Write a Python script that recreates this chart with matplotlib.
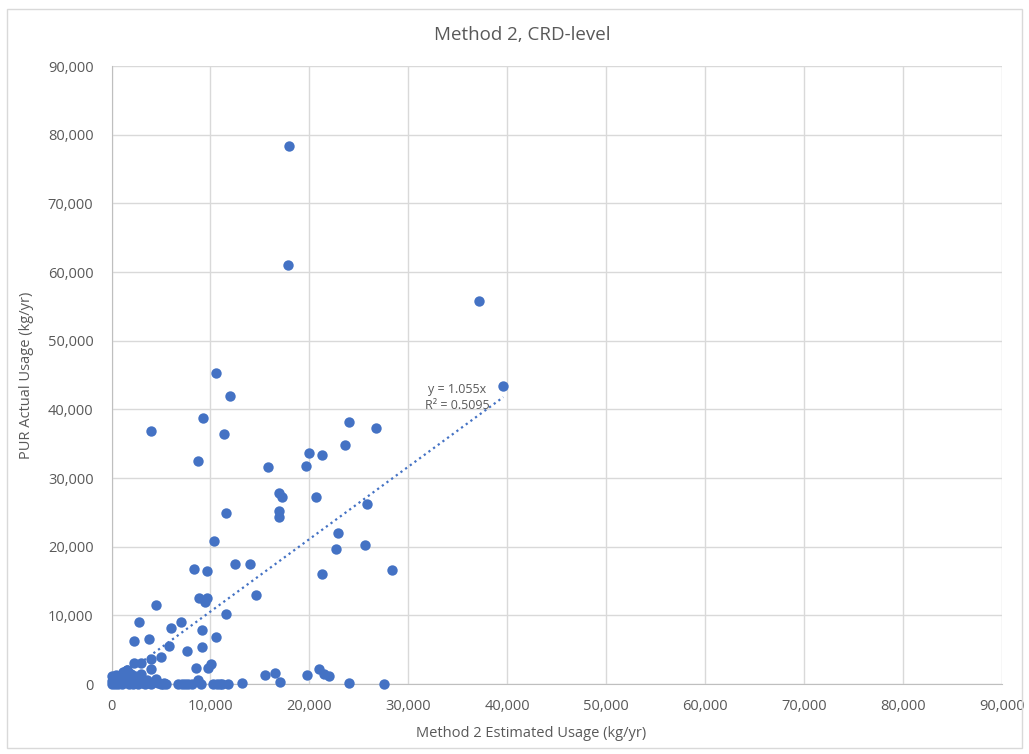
import matplotlib
matplotlib.use("Agg")
import matplotlib.pyplot as plt
import numpy as np
from matplotlib.ticker import FuncFormatter, MultipleLocator
from matplotlib.patches import Rectangle

# estimated usage (kg/yr)
est_usage = [
    17900, 17800, 37150, 39600, 10560, 12000, 9270, 3990, 11330, 24030,
    26740, 23630, 19930, 21300, 8720, 15810, 19670, 16880, 17200, 20700,
    16880, 16880, 11590, 25790, 22920, 22740, 25650, 21300, 28380, 10340,
    12530, 14000, 8320, 9650, 14640, 4510, 11590, 8860, 9700, 9440,
    2780, 7050, 6040, 9150, 10570, 2300, 3740, 5820, 7600, 9170,
    4000, 4960, 2250, 2970, 1300, 1600, 3990, 8560, 9770, 10060,
    15540, 16500, 8770, 9010, 19720, 20950, 21500, 21990, 17050, 24040,
    27550, 13200,
    5230, 6750, 7100, 7420, 7760, 8100, 10280, 10630, 10960, 11130, 11800,
    0, 0, 0, 200, 300, 400, 500, 600, 700, 800, 900, 1000, 1100, 1200,
    1300, 1500, 1600, 1700, 1800, 2000, 2100, 2200, 2400, 2500, 2700,
    2900, 3000, 3200, 3400, 3600, 3800, 4000, 4200, 4500, 4700, 5000,
    5300, 5500,
]

# actual PUR usage (kg/yr)
actual_usage = [
    78300, 61000, 55750, 43400, 45300, 41900, 38720, 36830, 36370, 38100,
    37240, 34740, 33570, 33310, 32480, 31550, 31730, 27850, 27170, 27220,
    25180, 24330, 24870, 26250, 21930, 19720, 20300, 15990, 16590, 20840,
    17450, 17450, 16800, 16450, 13000, 11520, 10210, 12590, 12590, 11930,
    9050, 8960, 8110, 7900, 6860, 6330, 6550, 5580, 4760, 5400,
    3690, 3980, 3030, 3130, 1700, 2100, 2200, 2310, 2330, 2860,
    1330, 1600, 510, 50, 1380, 2200, 1500, 1140, 310, 190,
    0, 80,
    0, 0, 0, 0, 0, 0, 0, 0, 0, 0, 0,
    0, 500, 1100, 300, 900, 0, 1300, 400, 0, 700, 1200, 200, 0, 1700,
    600, 1000, 2000, 300, 0, 1500, 700, 0, 1200, 300, 0,
    800, 1500, 200, 0, 600, 100, 0, 300, 700, 100, 0,
    200, 0,
]

slope = 1.055
eq_text = "y = 1.055x"
r2_text = "R² = 0.5095"

blue = "#4472C4"
grey_text = "#595959"
grid_col = "#d9d9d9"

plt.rcParams['font.family'] = ['Open Sans', 'DejaVu Sans']

fig = plt.figure(figsize=(10.29, 7.54), dpi=100)
ax = fig.add_axes([111.5 / 1029, 1 - 684 / 754, (1002 - 111.5) / 1029, (684 - 66) / 754])

# chart border
fig.patches.append(Rectangle((7 / 1029, 6 / 754), 1015 / 1029, 739 / 754,
                             transform=fig.transFigure, fill=False,
                             edgecolor="#d9d9d9", linewidth=1))

# trendline through origin
x_fit = np.array([0, max(est_usage)])
ax.plot(x_fit, slope * x_fit, color=blue, linestyle=(0, (1, 1.6)),
        linewidth=1.6, zorder=2)

ax.scatter(est_usage, actual_usage, s=56, color=blue, zorder=3,
           linewidths=0, clip_on=False)

ax.text(34900, 42900, eq_text, color=grey_text, fontsize=9,
        ha="center", va="center")
ax.text(34900, 40500, r2_text, color=grey_text, fontsize=9,
        ha="center", va="center")

ax.set_xlim(0, 90000)
ax.set_ylim(0, 90000)
ax.xaxis.set_major_locator(MultipleLocator(10000))
ax.yaxis.set_major_locator(MultipleLocator(10000))
fmt = FuncFormatter(lambda v, p: f"{int(v):,}")
ax.xaxis.set_major_formatter(fmt)
ax.yaxis.set_major_formatter(fmt)

ax.grid(True, color=grid_col, linewidth=1)
ax.set_axisbelow(True)
for side in ["top", "right"]:
    ax.spines[side].set_visible(False)
for side in ["left", "bottom"]:
    ax.spines[side].set_color("#bfbfbf")
ax.tick_params(length=0, labelsize=10.5, labelcolor=grey_text)
ax.tick_params(axis="y", pad=13)
ax.tick_params(axis="x", pad=11)

ax.set_xlabel("Method 2 Estimated Usage (kg/yr)", fontsize=10.5, color=grey_text)
ax.xaxis.set_label_coords((531 - 111.5) / (1002 - 111.5), -(726 - 684) / (684 - 66))
ax.set_ylabel("PUR Actual Usage (kg/yr)", fontsize=10.5, color=grey_text)
ax.yaxis.set_label_coords(-(111.5 - 34) / (1002 - 111.5), (684 - 375) / (684 - 66))

fig.text(522 / 1029, 1 - 35 / 754, "Method 2, CRD-level", fontsize=13.5,
         color=grey_text, ha="center", va="center")

fig.savefig("out.png", dpi=100)
